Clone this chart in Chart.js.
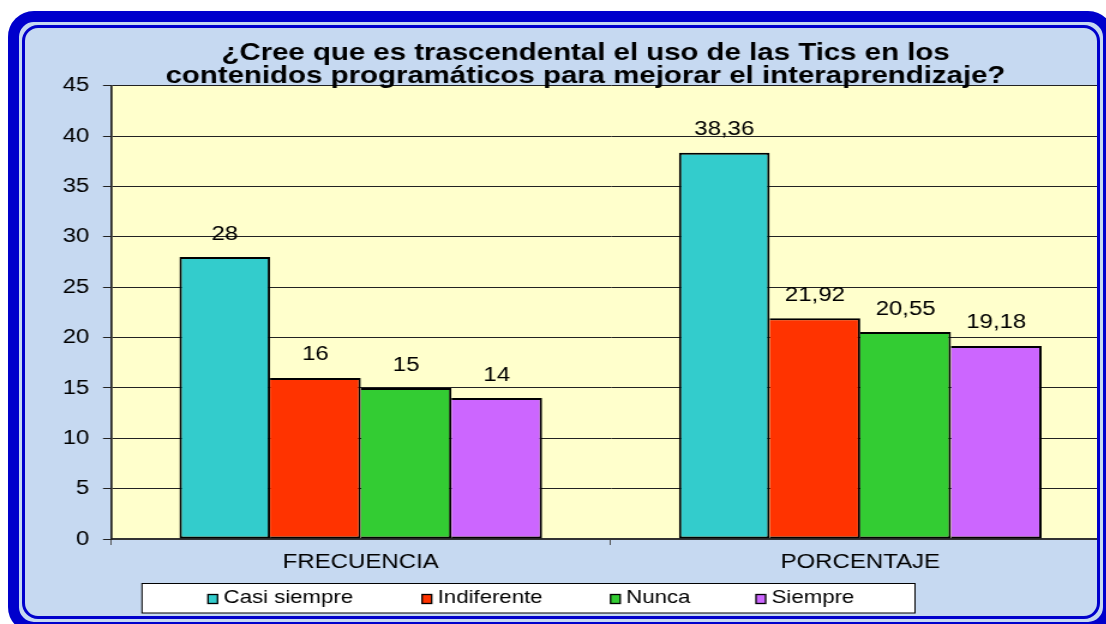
<!DOCTYPE html>
<html>
<head>
<meta charset="utf-8">
<title>Uso de las Tics</title>
<script src="https://cdn.jsdelivr.net/npm/chart.js@4.4.1/dist/chart.umd.min.js"></script>
<style>
  html, body { margin: 0; padding: 0; background: #fff; }
  #stage { position: relative; width: 1106px; height: 624px; overflow: hidden; }
  #bg { position: absolute; left: 8px; top: 11px; width: 1106px; height: 622px; background: #C6D9F1; border-radius: 26px; }
  /* the source picture is stretched sideways, so the canvas is too */
  #wrap { position: absolute; left: 0; top: 0; width: 940px; height: 624px; transform: scaleX(1.2); transform-origin: 0 0; }
  #outer { position: absolute; left: 8px; top: 11px; width: 1106px; height: 622px; box-sizing: border-box; border: 11px solid #0000CC; border-radius: 26px; }
  #inner { position: absolute; left: 22px; top: 25px; width: 1078px; height: 594px; box-sizing: border-box; border: 3px solid #0000CC; border-radius: 16px; box-shadow: 0 0 0 3px #C6D9F1; }
</style>
</head>
<body>
<div id="stage">
  <div id="bg"></div>
  <div id="wrap"><canvas id="ticsChart" width="940" height="624" style="width:940px;height:624px"></canvas></div>
  <div id="outer"></div>
  <div id="inner"></div>
</div>
<script>
// ---- data ----
const categories = ['FRECUENCIA', 'PORCENTAJE'];
const seriesNames = ['Casi siempre', 'Indiferente', 'Nunca', 'Siempre'];
const casiSiempre = [28, 38.36];
const indiferente = [16, 21.92];
const nunca = [15, 20.55];
const siempre = [14, 19.18];
const yMin = 0, yMax = 45, yStep = 5;
const titleLines = [
    '¿Cree que es trascendental el uso de las Tics en los',
    'contenidos programáticos para mejorar el interaprendizaje?'
];
const barColors = ['#33CCCC', '#FF3300', '#33CC33', '#CC66FF'];

Chart.defaults.font.family = "'Liberation Sans', Arial, sans-serif";
Chart.defaults.color = '#000';

function fmt(v) {
    return String(v).replace('.', ',');
}

// yellow plot area
const plotBackground = {
    id: 'plotBackground',
    beforeDraw(chart) {
        const { ctx, chartArea: a } = chart;
        ctx.save();
        ctx.fillStyle = '#FFFFCC';
        ctx.fillRect(a.left, a.top, a.right - a.left, a.bottom - a.top);
        ctx.restore();
    }
};

// numbers above the bars
const valueLabels = {
    id: 'valueLabels',
    afterDatasetsDraw(chart) {
        const ctx = chart.ctx;
        ctx.save();
        ctx.font = "20px 'Liberation Sans', Arial, sans-serif";
        ctx.fillStyle = '#000';
        ctx.textAlign = 'center';
        ctx.textBaseline = 'middle';
        chart.data.datasets.forEach((ds, i) => {
            chart.getDatasetMeta(i).data.forEach((bar, j) => {
                ctx.fillText(fmt(ds.data[j]), bar.x, bar.y - 23);
            });
        });
        ctx.restore();
    }
};

// boxed legend under the axis, like the spreadsheet one
const boxLegend = {
    id: 'boxLegend',
    afterDraw(chart) {
        const ctx = chart.ctx;
        const itemX = [173.3, 351.7, 508.8, 630];
        ctx.save();
        ctx.fillStyle = '#fff';
        ctx.strokeStyle = '#000';
        ctx.lineWidth = 1;
        ctx.fillRect(118.3, 583, 644.2, 30);
        ctx.strokeRect(118.3, 583.5, 644.2, 29.5);
        ctx.font = "18.5px 'Liberation Sans', Arial, sans-serif";
        ctx.textBaseline = 'middle';
        ctx.textAlign = 'left';
        ctx.lineWidth = 1.3;
        chart.data.datasets.forEach((ds, i) => {
            const x = itemX[i];
            ctx.fillStyle = ds.backgroundColor;
            ctx.fillRect(x, 594.5, 8, 9);
            ctx.strokeRect(x, 594.5, 8, 9);
            ctx.fillStyle = '#000';
            ctx.fillText(ds.label, x + 13, 598);
        });
        ctx.restore();
    }
};

const seriesValues = [casiSiempre, indiferente, nunca, siempre];

new Chart(document.getElementById('ticsChart'), {
    type: 'bar',
    data: {
        labels: categories,
        datasets: seriesNames.map((name, i) => ({
            label: name,
            data: seriesValues[i],
            backgroundColor: barColors[i],
            borderColor: '#000',
            borderWidth: i === 0 ? 2 : { top: 2, bottom: 2, left: 0, right: 2 },
            borderSkipped: false,
            barPercentage: 1,
            categoryPercentage: 0.726
        }))
    },
    options: {
        responsive: false,
        devicePixelRatio: 1,
        animation: false,
        layout: { padding: { top: 30, left: 50.8, right: 15, bottom: 50 } },
        plugins: {
            legend: { display: false },
            tooltip: { enabled: false },
            title: {
                display: true,
                text: titleLines,
                color: '#000',
                font: { size: 24.5, weight: 'bold', lineHeight: 0.94 },
                padding: { top: 12.2, bottom: -2.3 }
            }
        },
        scales: {
            x: {
                offset: true,
                grid: { drawOnChartArea: false, drawTicks: true, tickLength: 6, color: '#555', offset: true },
                border: { color: '#333', width: 2 },
                ticks: { padding: 5, font: { size: 20 }, color: '#000' },
                afterFit(scale) { scale.height = 35; }
            },
            y: {
                min: yMin,
                max: yMax,
                ticks: { stepSize: yStep, padding: 11.4, font: { size: 20 }, color: '#000' },
                grid: { color: '#222', lineWidth: 1, tickLength: 6.7 },
                border: { color: '#222', width: 1.7 },
                afterFit(scale) { scale.width = 41.7; }
            }
        }
    },
    plugins: [plotBackground, valueLabels, boxLegend]
});
</script>
</body>
</html>
